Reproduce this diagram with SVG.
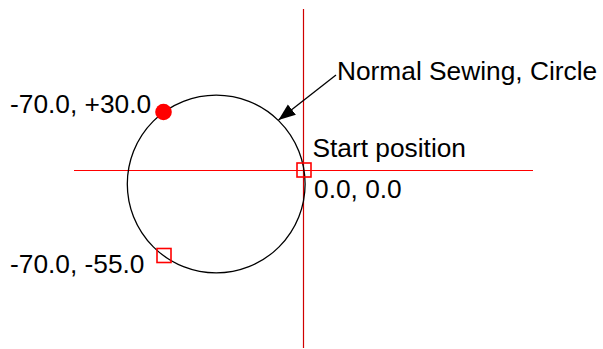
<svg xmlns="http://www.w3.org/2000/svg" width="603" height="349" viewBox="0 0 603 349">
<style>
.lbl{font-family:"Liberation Sans",Arial,sans-serif;font-size:26.3px;fill:#000}
.axis{stroke:#ff0000;stroke-width:1.2;fill:none}
.mark{stroke:#ff0000;stroke-width:1.6;fill:none}
</style>
<defs>
<marker id="ah" markerUnits="userSpaceOnUse" markerWidth="18" markerHeight="14" refX="17" refY="6.5" orient="auto">
<path d="M0,0 L17,6.5 L0,13 Z" fill="#000"/>
</marker>
</defs>
<rect width="603" height="349" fill="#fff"/>
<g id="axes">
<line x1="303.5" y1="9" x2="303.5" y2="348" stroke="#d00000" stroke-width="1.2"/>
<line class="axis" x1="74" y1="170.5" x2="533" y2="170.5"/>
</g>
<g id="circle">
<circle cx="216.2" cy="184" r="88.9" fill="none" stroke="#000" stroke-width="1.3"/>
</g>
<g id="connectors">
<line x1="336" y1="75" x2="278.5" y2="120" stroke="#000" stroke-width="1.3" marker-end="url(#ah)"/>
</g>
<g id="start">
<rect class="mark" x="297" y="163" width="14" height="14"/>
<text class="lbl" x="312.5" y="157">Start position</text>
<text class="lbl" x="314" y="198">0.0, 0.0</text>
</g>
<g id="point-top">
<circle cx="163.5" cy="112" r="8.3" fill="#ff0000"/>
<text class="lbl" x="10" y="113">-70.0, +30.0</text>
</g>
<g id="point-bottom">
<rect class="mark" x="157" y="248.5" width="14" height="14"/>
<text class="lbl" x="10" y="273">-70.0, -55.0</text>
</g>
<g id="title">
<text class="lbl" x="337" y="79.5">Normal Sewing, Circle</text>
</g>
</svg>
